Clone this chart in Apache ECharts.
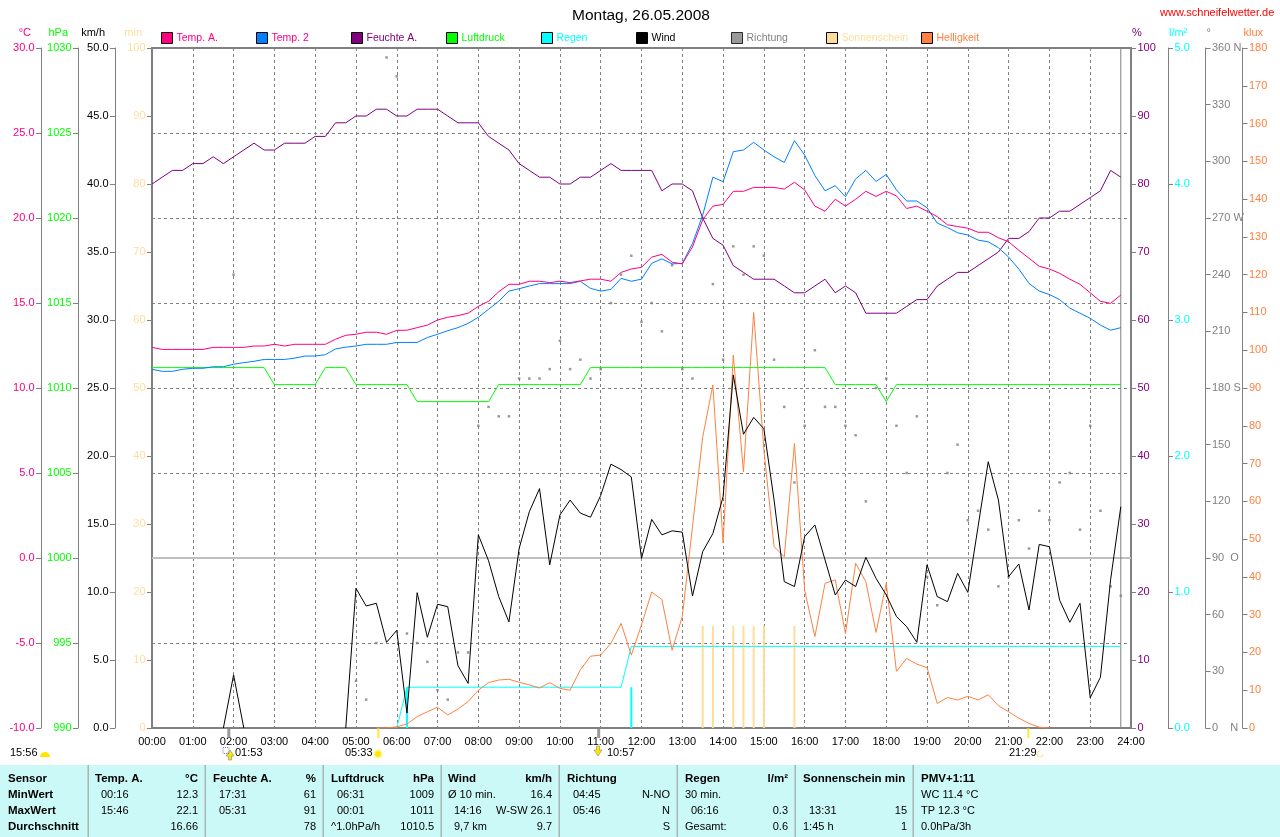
<!DOCTYPE html>
<html><head><meta charset="utf-8">
<style>html,body{margin:0;padding:0;background:#fff}#c{width:1280px;height:837px}</style>
<script src="https://cdn.jsdelivr.net/npm/echarts@6/dist/echarts.min.js"></script>
</head><body><div id="c"></div>
<script>
const chartTitle = 'Montag, 26.05.2008';
const siteName = 'www.schneifelwetter.de';
const slotMinutes = 15;
const endMinute = 1425;

const tempA = [12.39,12.27,12.27,12.27,12.27,12.27,12.39,12.39,12.39,12.39,12.47,12.47,12.57,12.47,12.57,12.57,12.57,12.57,12.87,13.1,13.16,13.28,13.28,13.16,13.39,13.4,13.55,13.7,14,14.16,14.26,14.4,14.8,15.1,15.66,16.1,16.1,16.28,16.28,16.2,16.28,16.2,16.3,16.4,16.4,16.28,16.8,17,17.1,17.7,17.86,17.4,17.3,18.3,19.9,20.7,20.8,21.57,21.57,21.8,21.8,21.8,21.7,22.1,21.65,20.7,20.4,21.1,20.7,21.1,21.57,21.27,21.57,21.3,20.56,20.7,20.4,20.08,19.6,19.5,19.4,19.16,19.16,18.84,18.6,18.1,17.63,17.16,17,16.75,16.4,16.1,15.6,15.1,14.98,15.47];
const temp2 = [11.1,10.98,10.98,11.1,11.16,11.16,11.25,11.25,11.4,11.49,11.57,11.68,11.68,11.68,11.76,11.88,11.88,11.96,12.3,12.4,12.47,12.57,12.57,12.57,12.68,12.68,12.68,12.97,13.16,13.37,13.55,13.8,14.16,14.63,15.1,15.7,15.84,16,16.14,16.14,16.14,16.14,16.28,15.86,15.7,15.8,16.45,16.28,16.4,17.33,17.6,17.3,17.33,18.5,20.17,22.4,22.14,23.9,24,24.45,24,23.6,23.27,24.55,23.7,22.5,21.6,21.9,21.25,22.3,22.8,22.15,22.56,21.65,21,21,20.6,19.7,19.44,19.13,19,18.7,18.6,18.25,17.7,17,16.15,15.7,15.5,15.2,14.7,14.4,14.1,13.7,13.4,13.55];
const humidity = [80,81,82,82,83,83,84,83,84,85,86,85,85,86,86,86,87,87,89,89,90,90,91,91,90,90,91,91,91,90,89,89,89,87,86,85,83,82,81,81,80,80,81,81,82,83,82,82,82,82,79,80,80,79,75,72,71,68,67,66,66,66,65,64,64,65,66,64,65,64,61,61,61,61,62,63,63,65,66,67,67,68,69,70,72,72,73,75,75,76,76,77,78,79,82,81];
const pressure = [1011.2,1011.2,1011.2,1011.2,1011.2,1011.2,1011.2,1011.2,1011.2,1011.2,1011.2,1011.2,1010.2,1010.2,1010.2,1010.2,1010.2,1011.2,1011.2,1011.2,1010.2,1010.2,1010.2,1010.2,1010.2,1010.2,1009.2,1009.2,1009.2,1009.2,1009.2,1009.2,1009.2,1009.2,1010.2,1010.2,1010.2,1010.2,1010.2,1010.2,1010.2,1010.2,1010.2,1011.2,1011.2,1011.2,1011.2,1011.2,1011.2,1011.2,1011.2,1011.2,1011.2,1011.2,1011.2,1011.2,1011.2,1011.2,1011.2,1011.2,1011.2,1011.2,1011.2,1011.2,1011.2,1011.2,1011.2,1010.2,1010.2,1010.2,1010.2,1010.2,1009.2,1010.2,1010.2,1010.2,1010.2,1010.2,1010.2,1010.2,1010.2,1010.2,1010.2,1010.2,1010.2,1010.2,1010.2,1010.2,1010.2,1010.2,1010.2,1010.2,1010.2,1010.2,1010.2,1010.2];
const wind = [null,null,null,null,null,null,null,0,3.9,0,null,null,null,null,null,null,null,null,null,0,10.27,8.97,9.17,6.3,7.18,1.1,9.95,6.67,9.1,8.92,4.58,3.28,14.2,12.3,9.66,7.8,13.2,15.9,17.6,12,15.66,16.76,15.8,15.5,17.1,19.4,19,18.46,12.47,15.34,14.2,14.5,14.4,9.7,12.97,14.3,17,25.96,21.6,22.84,22,16.76,10.76,10.4,14.07,14.93,12.35,9.78,10.88,10.4,12.55,11,9.78,8.2,7.45,6.3,12,9.66,9.29,11.37,9.97,14.8,19.58,16.76,11.13,12.06,8.68,13.5,13.33,9.4,7.77,9.17,2.23,3.73,10.9,16.27];
const direction = [null,null,null,null,null,null,null,null,240,null,null,null,null,null,null,null,null,null,null,null,25,15,45,355,345,50,45,35,20,15,40,40,160,170,165,165,185,185,185,190,205,190,195,185,190,225,240,250,215,225,210,245,190,185,270,235,195,255,240,255,250,195,170,130,160,200,170,170,160,155,120,180,185,160,135,165,80,65,135,150,110,115,105,75,80,110,95,115,110,130,135,105,160,115,75,70];
const brightness = [null,null,null,null,null,null,null,null,null,null,null,null,null,null,null,null,null,null,null,null,null,null,0,0,0.3,1.06,3,4.3,5.5,3.44,5,7,10,12,12.7,12.9,12.1,11.4,10.6,12,10.5,10,15.4,19,19.3,22.4,27.7,19.3,27.3,36,34,20.6,29.5,53.3,77,90.8,49,98.7,67.8,110,73.6,48,45.3,75.3,36.5,24.2,38.3,39.2,25,43.6,38.7,25.3,38.3,15,18.4,16.9,16,6.5,8.1,7.4,8.4,7.4,8.8,5.9,4.3,2.6,1.2,0.2,0,null,null,null,null,null,null,null];
const rainTotal = [null,null,null,null,null,null,null,null,null,null,null,null,null,null,null,null,null,null,null,null,null,null,null,null,0,0.3,0.3,0.3,0.3,0.3,0.3,0.3,0.3,0.3,0.3,0.3,0.3,0.3,0.3,0.3,0.3,0.3,0.3,0.3,0.3,0.3,0.3,0.6,0.6,0.6,0.6,0.6,0.6,0.6,0.6,0.6,0.6,0.6,0.6,0.6,0.6,0.6,0.6,0.6,0.6,0.6,0.6,0.6,0.6,0.6,0.6,0.6,0.6,0.6,0.6,0.6,0.6,0.6,0.6,0.6,0.6,0.6,0.6,0.6,0.6,0.6,0.6,0.6,0.6,0.6,0.6,0.6,0.6,0.6,0.6,0.6];
const rainBarTimes = [375,705];
const rainBarValues = [0.3,0.3];
const sunBarTimes = [810,825,855,870,885,900,945];
const sunBarValues = [15,15,15,15,15,15,15];
const directionRef = [90,90];
const sunEvents = [333,1289];
const moonEvents = [113,657];

const legendNames = ['Temp. A.','Temp. 2','Feuchte A.','Luftdruck','Regen','Wind','Richtung','Sonnenschein','Helligkeit'];
const tempTicks = '°C', pressUnit = 'hPa', windUnit = 'km/h', sunUnit = 'min', humUnit = '%', rainUnit = 'l/m²', dirUnit = '°', luxUnit = 'klux';
const dirLetters = {360:'360 N',270:'270 W',180:'180 S',90:'90  O',0:'0    N'};

const annotationTexts = ['15:56','01:53','05:33','10:57','21:29'];

const tableTexts = [
  ['Sensor','MinWert','MaxWert','Durchschnitt'],
  ['Temp. A.','00:16','15:46',''],
  ['°C','12.3','22.1','16.66'],
  ['Feuchte A.','17:31','05:31',''],
  ['%','61','91','78'],
  ['Luftdruck','06:31','00:01','^1.0hPa/h'],
  ['hPa','1009','1011','1010.5'],
  ['Wind','Ø 10 min.','14:16','9,7 km'],
  ['km/h','16.4','W-SW 26.1','9.7'],
  ['Richtung','04:45','05:46',''],
  ['','N-NO','N','S'],
  ['Regen','30 min.','06:16','Gesamt:'],
  ['l/m²','','0.3','0.6'],
  ['Sonnenschein min','','13:31','1:45 h'],
  ['','','15','1'],
  ['PMV+1:11','WC 11.4 °C','TP 12.3 °C','0.0hPa/3h']
];
const tableX = [8,95,198,213,316,331,434,448,552,567,670,685,788,803,907,921];
const tableAlign = ['left','left','right','left','right','left','right','left','right','left','right','left','right','left','right','left'];
const tableRowY = [779,795,811,827];
const tableDividers = [88,205,323,441,559,677,795,913];

const C = {temp:'#FF0080',t2:'#0080FF',hum:'#800080',press:'#00FF00',rain:'#00FFFF',wind:'#000000',dir:'#808080',sun:'#FFDD99',lux:'#FF8040'};
const FONT = '"Liberation Sans", Arial, sans-serif';
const pairs = vals => vals.map((v,i)=>[i*slotMinutes, v]);
const zipT = (t,v) => t.map((x,i)=>[x,v[i]]);
const pad = n => String(n).padStart(2,'0');

const GL = 152, GT = 48, GW = 979, GH = 680;

function yAxis(opts){
  const o = {
    type:'value', position:opts.pos, offset:opts.offset, min:opts.min, max:opts.max, interval:opts.interval,
    name:opts.name, nameLocation:'end', nameGap:15,
    nameTextStyle:{color:opts.color, fontSize:11, fontFamily:FONT, align:opts.pos==='left'?'right':'left', verticalAlign:'middle',
      padding:opts.pos==='left'?[0,10,0,0]:[0,0,0,1]},
    axisLine:{show:true, onZero:false, lineStyle:{color:'#808080', width:1}},
    axisTick:{show:true, length:5, lineStyle:{color:'#808080'}},
    axisLabel:{color:opts.color, fontSize:11, fontFamily:FONT, margin:6.5, formatter:opts.fmt, showMinLabel:true, showMaxLabel:true, hideOverlap:false},
    splitLine:{show:false}
  };
  return o;
}

const yAxes = [
  yAxis({pos:'left',offset:111,min:-10,max:30,interval:5,name:tempTicks,color:C.temp,fmt:v=>v.toFixed(1)}),        // 0
  yAxis({pos:'left',offset:74,min:990,max:1030,interval:5,name:pressUnit,color:C.press,fmt:v=>String(v)}),          // 1
  yAxis({pos:'left',offset:37,min:0,max:50,interval:5,name:windUnit,color:C.wind,fmt:v=>v.toFixed(1)}),              // 2
  yAxis({pos:'left',offset:0,min:0,max:100,interval:10,name:sunUnit,color:C.sun,fmt:v=>String(v)}),                  // 3
  yAxis({pos:'right',offset:0,min:0,max:100,interval:10,name:humUnit,color:C.hum,fmt:v=>String(v)}),                 // 4
  yAxis({pos:'right',offset:37,min:0,max:5,interval:1,name:rainUnit,color:C.rain,fmt:v=>v.toFixed(1)}),              // 5
  yAxis({pos:'right',offset:74.5,min:0,max:360,interval:30,name:dirUnit,color:C.dir,fmt:v=>dirLetters[v]||String(v)}), // 6
  yAxis({pos:'right',offset:111.5,min:0,max:180,interval:10,name:luxUnit,color:C.lux,fmt:v=>String(v)}),             // 7
  {type:'value',position:'left',min:0,max:8,interval:1,axisLine:{show:false},axisTick:{show:false},axisLabel:{show:false},
   splitLine:{show:true,lineStyle:{color:'#808080',type:[3,3],width:1}}}                                              // 8
];

const line = (name,yi,data,color,z,extra) => Object.assign({
  type:'line',name,yAxisIndex:yi,data,showSymbol:false,symbol:'none',z,
  lineStyle:{color,width:1},itemStyle:{color},connectNulls:false,silent:true,animation:false
},extra||{});

const series = [
  line('Richtwert 90',6,zipT([0,1440],directionRef),'#C0C0C0',2,{lineStyle:{color:'#C0C0C0',width:2}}),
  line('Ende',3,[[endMinute,0],[endMinute,100]],'#808080',2),
  {type:'bar',name:'Sonnenschein',yAxisIndex:3,data:zipT(sunBarTimes,sunBarValues),barWidth:2,barGap:'-100%',z:3,itemStyle:{color:C.sun},animation:false,silent:true},
  {type:'bar',name:'Regen 30 min',yAxisIndex:5,data:zipT(rainBarTimes,rainBarValues),barWidth:2,barGap:'-100%',z:3,itemStyle:{color:C.rain},animation:false,silent:true},
  {type:'scatter',name:'Richtung',yAxisIndex:6,data:pairs(direction).filter(p=>p[1]!==null),symbol:'rect',symbolSize:2.5,z:3,itemStyle:{color:C.dir},animation:false,silent:true},
  line('Regen',5,pairs(rainTotal),C.rain,4),
  line('Helligkeit',7,pairs(brightness),C.lux,5),
  line('Luftdruck',1,pairs(pressure),C.press,6),
  line('Feuchte A.',4,pairs(humidity),C.hum,6),
  line('Temp. 2',0,pairs(temp2),C.t2,6),
  line('Temp. A.',0,pairs(tempA),C.temp,7),
  line('Wind',2,pairs(wind),C.wind,8),
  {type:'scatter',name:'Sonne',yAxisIndex:3,data:sunEvents.map(t=>[t,0]),symbol:'rect',symbolSize:[2,10],symbolOffset:[0,5],clip:false,z:9,itemStyle:{color:'#FFE000'},animation:false,silent:true},
  {type:'scatter',name:'Mond',yAxisIndex:3,data:moonEvents.map(t=>[t,0]),symbol:'rect',symbolSize:[3,10],symbolOffset:[0,5],clip:false,z:9,itemStyle:{color:'#808080'},animation:false,silent:true}
];

const legendColors = [C.temp,C.temp,C.hum,C.press,C.rain,C.wind,C.dir,C.sun,C.lux];
const legendLeft = [161,256,351,446,541,636,731,826,921];
const legends = legendNames.map((n,i)=>({
  data:[n], left:legendLeft[i], top:32, padding:0, icon:'rect', itemWidth:11, itemHeight:11, itemGap:0, selectedMode:false,
  textStyle:{color:legendColors[i],fontSize:10.5,fontFamily:FONT,padding:[0,0,0,-1]},
  itemStyle:{borderColor:'#000',borderWidth:1}
}));

const graphics = [];
graphics.push({type:'rect',shape:{x:0,y:765,width:1280,height:72},style:{fill:'#CBF9F7'},silent:true,z:1});
tableDividers.forEach(x=>graphics.push({type:'rect',shape:{x:x-0.5,y:765,width:1.5,height:72},style:{fill:'#A9B4B4'},silent:true,z:2}));
const boldFirstCol = 0;
tableTexts.forEach((col,c)=>col.forEach((txt,r)=>{
  if(!txt) return;
  const bold = r===0 || c===boldFirstCol;
  const indent = (r>0 && tableAlign[c]==='left' && /^\d\d:\d\d$|^9,7/.test(txt)) ? 6 : 0;
  graphics.push({type:'text',x:tableX[c]+indent,y:tableRowY[r],z:3,silent:true,
    style:{text:txt,fill:'#000',font:(bold?'bold 11.5px ':'11px ')+FONT,textAlign:tableAlign[c],textVerticalAlign:'middle'}});
}));
const annX = [10,235,345,607,1009];
const annY = [753,753,753,753,753];
annotationTexts.forEach((t,i)=>graphics.push({type:'text',x:annX[i],y:annY[i],z:3,silent:true,
  style:{text:t,fill:'#000',font:'11px '+FONT,textAlign:'left',textVerticalAlign:'middle'}}));
// sun / moon symbols
graphics.push({type:'sector',shape:{cx:45,cy:757,r:5,startAngle:Math.PI,endAngle:2*Math.PI},style:{fill:'#FFE600'},silent:true,z:3});
graphics.push({type:'circle',shape:{cx:378,cy:754,r:5},style:{fill:'#FFF6B0'},silent:true,z:3});
graphics.push({type:'circle',shape:{cx:378,cy:754,r:3},style:{fill:'#FFE600'},silent:true,z:4});
graphics.push({type:'polygon',shape:{points:[[230,750],[226,756],[228.5,756],[228.5,760],[231.5,760],[231.5,756],[234,756]]},style:{fill:'#FFE600',stroke:'#777',lineWidth:0.5},silent:true,z:3});
graphics.push({type:'rect',shape:{x:223,y:747.5,width:6,height:6},style:{fill:'none',stroke:'#7777CC',lineWidth:1,lineDash:[1,1]},silent:true,z:3});
graphics.push({type:'polygon',shape:{points:[[598,756],[594,750],[596.5,750],[596.5,746],[599.5,746],[599.5,750],[602,750]]},style:{fill:'#FFE600',stroke:'#777',lineWidth:0.5},silent:true,z:3});
graphics.push({type:'arc',shape:{cx:1040,cy:754,r:3,startAngle:0,endAngle:Math.PI*1.5},style:{stroke:'#FFE088',lineWidth:1,fill:'none'},silent:true,z:3});

const option = {
  animation:false,
  backgroundColor:'#fff',
  textStyle:{fontFamily:FONT},
  title:[
    {text:chartTitle,left:572,top:8,padding:0,textStyle:{color:'#000',fontSize:15.5,fontWeight:'normal',fontFamily:FONT}},
    {text:siteName,left:1160,top:7,padding:0,textStyle:{color:'#FF0000',fontSize:11,fontWeight:'normal',fontFamily:FONT}}
  ],
  legend:legends,
  grid:{left:GL,top:GT,width:GW,height:GH,show:true,borderColor:'#808080',borderWidth:2,backgroundColor:'#fff',containLabel:false},
  xAxis:{type:'value',min:0,max:1440,interval:60,
    axisLine:{show:false},
    axisTick:{show:true,length:3,lineStyle:{color:'#808080'}},
    axisLabel:{color:'#000',fontSize:11,fontFamily:FONT,margin:8,formatter:v=>pad(v/60)+':00',showMinLabel:true,showMaxLabel:true,hideOverlap:false},
    splitLine:{show:true,lineStyle:{color:'#808080',type:[3,3],width:1}}},
  yAxis:yAxes,
  series,
  graphic:graphics
};
const chart = echarts.init(document.getElementById('c'),null,{renderer:'canvas',width:1280,height:837});
chart.setOption(option);
</script></body></html>
